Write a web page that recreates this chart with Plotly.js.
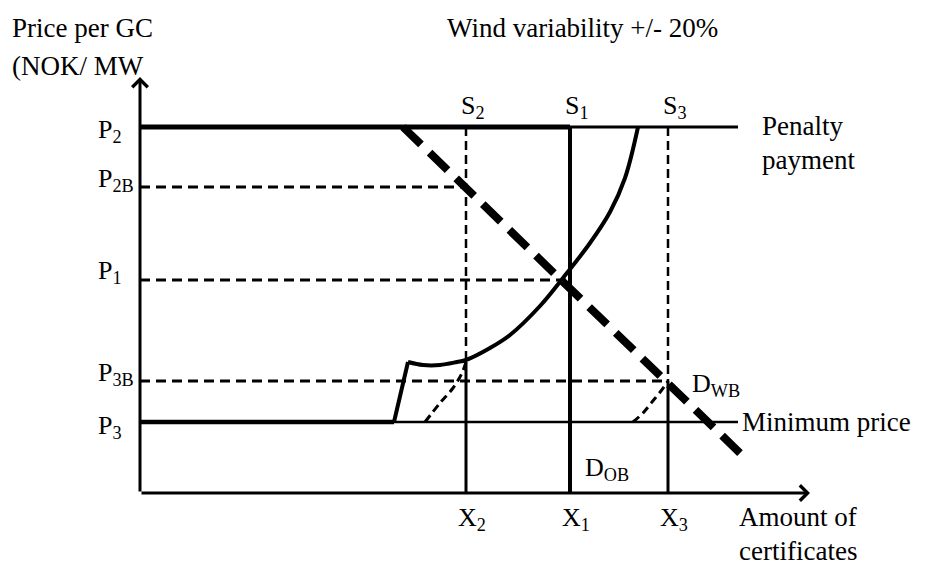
<!DOCTYPE html>
<html>
<head>
<meta charset="utf-8">
<script src="https://cdn.plot.ly/plotly-3.0.1.min.js"></script>
<style>
  html, body { margin: 0; padding: 0; background: #fff; }
  #chart { width: 925px; height: 566px; }
</style>
</head>
<body>
<div id="chart"></div>
<script>
// price levels on the vertical axis
const priceLabels = ['P<sub>2</sub>', 'P<sub>2B</sub>', 'P<sub>1</sub>', 'P<sub>3B</sub>', 'P<sub>3</sub>'];
const priceValues = [366, 306, 213, 112, 71];

// quantities on the horizontal axis (X2, X1, X3) and the supply labels above them
const qtyLabels = ['X<sub>2</sub>', 'X<sub>1</sub>', 'X<sub>3</sub>'];
const supplyLabels = ['S<sub>2</sub>', 'S<sub>1</sub>', 'S<sub>3</sub>'];
const qtyValues = [326, 430, 528];

// supply curve S1 (kink from minimum price, then convex rise to penalty)
const supplyX = [254, 268, 283, 300, 317, 326, 350, 370, 400, 423, 450, 470, 485, 498];
const supplyY = [71, 131, 128, 128, 131, 133, 145, 158, 187, 215, 250, 281, 315, 366];

// shifted supply pieces (wind variability), dashed
const lowWindX = [285, 300, 313, 322, 326];
const lowWindY = [71, 90, 105, 120, 131];
const highWindX = [493, 503, 512, 521, 528];
const highWindY = [71, 80, 91, 102, 112];

// demand D_WB
const demandX = [263, 600];
const demandY = [366, 40];

// end of the penalty / minimum price lines and of the axes
const priceLineEnd = 598;
const axisEndX = 670;
const axisEndY = 416;

const FONT = '"Liberation Serif", "Times New Roman", serif';
const thinDash = '10px,6px';

function seg(x, y, width, dash, shape) {
    return {
        x: x, y: y, type: 'scatter', mode: 'lines',
        line: { color: '#000', width: width, dash: dash || 'solid', shape: shape || 'linear' },
        hoverinfo: 'skip', showlegend: false
    };
}

const P2 = priceValues[0], P2B = priceValues[1], P1 = priceValues[2], P3B = priceValues[3], P3 = priceValues[4];
const X2 = qtyValues[0], X1 = qtyValues[1], X3 = qtyValues[2];

const traces = [
    // penalty payment line: thick to S1, thin after
    seg([0, X1], [P2, P2], 5),
    seg([X1, priceLineEnd], [P2, P2], 3),
    // minimum price line: thick to the kink, thin after
    seg([0, supplyX[0]], [P3, P3], 4.5),
    seg([supplyX[0], priceLineEnd], [P3, P3], 2.5),
    // dashed price guides
    seg([0, X2], [P2B, P2B], 3, thinDash),
    seg([0, X1], [P1, P1], 3, thinDash),
    seg([0, X3], [P3B, P3B], 3, thinDash),
    // verticals
    seg([X2, X2], [P2, lowWindY[lowWindY.length - 1]], 2.5, '9px,5px'),
    seg([X2, X2], [lowWindY[lowWindY.length - 1], 0], 3),
    seg([X1, X1], [P2, 0], 4),
    seg([X3, X3], [P2, highWindY[highWindY.length - 1]], 2.5, '9px,5px'),
    seg([X3, X3], [highWindY[highWindY.length - 1], 0], 3),
    // supply S1
    seg(supplyX.slice(0, 2), supplyY.slice(0, 2), 4),
    seg(supplyX.slice(1), supplyY.slice(1), 4, 'solid', 'spline'),
    // wind shifted supply
    seg(lowWindX, lowWindY, 3, '8px,5px', 'spline'),
    seg(highWindX, highWindY, 3, '8px,5px', 'spline'),
    // demand
    seg(demandX, demandY, 8, '25px,12px')
];

function txt(text, x, y, xanchor, size, yshift) {
    return {
        text: text, x: x, y: y, xref: 'x', yref: 'y',
        xanchor: xanchor, yanchor: 'middle', showarrow: false,
        yshift: yshift || 0,
        font: { family: FONT, size: size, color: '#000' }
    };
}

const annotations = [];

// axes with open arrow heads
annotations.push({
    x: axisEndX, y: 0, ax: 0, ay: 0, xref: 'x', yref: 'y', axref: 'x', ayref: 'y',
    text: '', showarrow: true, arrowhead: 4, arrowsize: 1, arrowwidth: 3, arrowcolor: '#000'
});
annotations.push({
    x: 0, y: axisEndY, ax: 0, ay: 0, xref: 'x', yref: 'y', axref: 'x', ayref: 'y',
    text: '', showarrow: true, arrowhead: 4, arrowsize: 1, arrowwidth: 3, arrowcolor: '#000'
});

// price labels on the left
const priceShift = [-4, 7, 8, 7, -5];
priceLabels.forEach((lab, i) => {
    annotations.push(txt(lab, -44, priceValues[i], 'left', 26, priceShift[i]));
});

// quantity labels and supply labels
qtyLabels.forEach((lab, i) => {
    annotations.push(txt(lab, qtyValues[i] + 6, -26, 'center', 26));
    annotations.push(txt(supplyLabels[i], qtyValues[i] + 7, 386, 'center', 26));
});

annotations.push(txt('Price per GC', -130, 465, 'left', 27));
annotations.push(txt('(NOK/ MW', -130, 427, 'left', 27));
annotations.push(txt('Wind variability +/- 20%', 442, 465, 'center', 27));
annotations.push(txt('Penalty', 620, 367, 'left', 27));
annotations.push(txt('payment', 620, 333, 'left', 27));
annotations.push(txt('Minimum price', 600, 71, 'left', 27));
annotations.push(txt('Amount of', 597, -24, 'left', 27));
annotations.push(txt('certificates', 597, -58, 'left', 27));
annotations.push(txt('D<sub>WB</sub>', 550, 108, 'left', 26));
annotations.push(txt('D<sub>OB</sub>', 443, 24, 'left', 26));

const layout = {
    width: 925,
    height: 566,
    margin: { l: 0, r: 0, t: 0, b: 0 },
    paper_bgcolor: '#fff',
    plot_bgcolor: '#fff',
    showlegend: false,
    xaxis: { range: [-140, 785], visible: false, fixedrange: true },
    yaxis: { range: [-73, 493], visible: false, fixedrange: true },
    annotations: annotations
};

Plotly.newPlot('chart', traces, layout, { displayModeBar: false, staticPlot: true });
</script>
</body>
</html>
